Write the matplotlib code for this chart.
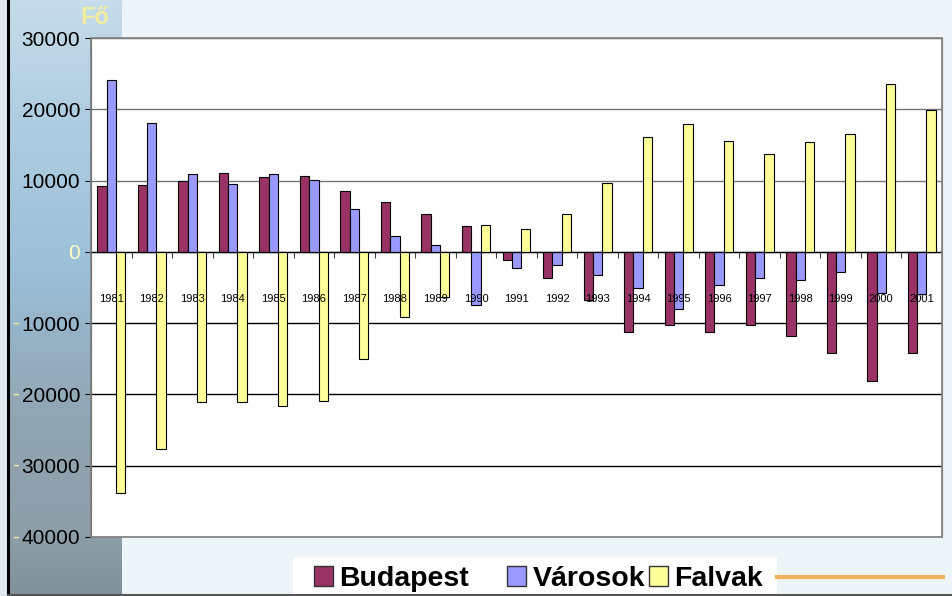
import numpy as np
import matplotlib
matplotlib.use("Agg")
import matplotlib.pyplot as plt
from matplotlib.patches import Patch, Rectangle
from matplotlib.lines import Line2D
from matplotlib.transforms import blended_transform_factory

plt.rcParams['font.family'] = ['Liberation Sans', 'DejaVu Sans']

years = [str(y) for y in range(1981, 2002)]
budapest = [9200, 9400, 10000, 11100, 10500, 10600, 8600, 7000, 5300, 3600,
            -1100, -3700, -6800, -11300, -10200, -11300, -10200, -11800, -14200, -18100, -14200]
varosok = [24100, 18100, 10900, 9500, 10900, 10100, 6000, 2200, 900, -7400,
           -2300, -1900, -3300, -5100, -8000, -4700, -3600, -4000, -2800, -5800, -5900]
falvak = [-33800, -27700, -21100, -21000, -21600, -20900, -15000, -9200, -6300, 3700,
          3200, 5300, 9600, 16100, 17900, 15500, 13700, 15400, 16600, 23500, 19900]
series_names = ['Budapest', 'Városok', 'Falvak']
colors = ['#993366', '#9999FF', '#FFFF99']
yticks = [30000, 20000, 10000, 0, -10000, -20000, -30000, -40000]

W, H = 953, 596
fig = plt.figure(figsize=(W / 100, H / 100), dpi=100)
fig.patch.set_facecolor('#EEF5F8')

# left watercolor strip (decoration)
bg = fig.add_axes([0, 0, 122 / W, 1])
bg.set_axis_off()
stops_t = [0.0, 0.2, 0.45, 0.55, 0.7, 0.9, 1.0]
stops_c = np.array([[198, 220, 234], [175, 205, 225], [155, 192, 216], [150, 180, 200],
                    [145, 165, 178], [140, 158, 168], [128, 145, 155]]) / 255.0
t = np.linspace(0, 1, 300)
grad = np.stack([np.interp(t, stops_t, stops_c[:, j]) for j in range(3)], axis=1)
img = np.repeat(grad[:, None, :], 20, axis=1)
bg.imshow(img, aspect='auto', extent=[0, 1, 0, 1], origin='upper')
bg.set_xlim(0, 1)
bg.set_ylim(0, 1)
fig.add_artist(Rectangle((0, 0), 7 / W, 1, transform=fig.transFigure,
                         facecolor='#dfe9ef', edgecolor='none'))
fig.add_artist(Line2D([8 / W, 8 / W], [0, 1], transform=fig.transFigure, color='black', lw=2.2))
fig.add_artist(Line2D([8 / W, 1], [1.5 / H, 1.5 / H], transform=fig.transFigure,
                      color='#555555', lw=1.5))

ax = fig.add_axes([91 / W, 1 - 537 / H, (942 - 91) / W, (537 - 38) / H])
ax.set_facecolor('white')

x = np.arange(len(years))
w = 0.23
for k, (vals, c, name) in enumerate(zip([budapest, varosok, falvak], colors, series_names)):
    ax.bar(x + (k - 1) * w, vals, width=w, color=c, edgecolor='black', linewidth=0.8, label=name, zorder=3)

ax.set_xlim(-0.5, len(years) - 0.5)
ax.set_ylim(-40000, 30000)
ax.set_yticks(yticks)
ax.yaxis.grid(True, linewidth=1.0, zorder=0)
for gl, v in zip(ax.get_ygridlines(), yticks):
    gl.set_color('#777777' if v > 0 else 'black')

ax.spines['bottom'].set_position(('data', 0))
ax.spines['bottom'].set_color('black')
ax.spines['bottom'].set_zorder(4)
ax.spines['top'].set_color('#808080')
ax.spines['right'].set_color('#808080')
ax.spines['left'].set_color('#333333')
ax.add_patch(Rectangle((0, 0), 1, 1, transform=ax.transAxes, fill=False,
                       edgecolor='#808080', linewidth=1.2, clip_on=False, zorder=5))

ax.set_xticks(x[:-1] + 0.5)
ax.tick_params(axis='x', direction='out', length=4, width=0.8, color='#444444', labelbottom=False)
for i, yr in enumerate(years):
    ax.text(i, -6550, yr, ha='center', va='center', fontsize=8, color='black', zorder=6)

ax.tick_params(axis='y', direction='out', length=4.3, width=0.8, labelsize=15, pad=3.5)
ax.set_yticklabels([f'{abs(v)}' for v in yticks])
for lbl, v in zip(ax.get_yticklabels(), yticks):
    if v == 0:
        lbl.set_color('#FFFFC0')
tr = blended_transform_factory(fig.transFigure, ax.transData)
for v in yticks:
    if v < 0:
        fig.text(16 / W, v, '-', transform=tr, ha='center', va='center',
                 fontsize=15, color='#F5F0A0')

fig.text(95 / W, 1 - 17 / H, 'Fő', ha='center', va='center', fontsize=17,
         fontweight='bold', color='#F2EEA0')

# legend: white box with three entries at their own positions
fig.add_artist(Rectangle((293 / W, 0), (777 - 293) / W, (596 - 557) / H,
                         transform=fig.transFigure, facecolor='white', edgecolor='none'))
marker_x = [314, 507, 649]
for c, name, mx in zip(colors, series_names, marker_x):
    h = Patch(facecolor=c, edgecolor='#333333', linewidth=1.0)
    fig.legend([h], [name], loc='center left', bbox_to_anchor=(mx / W, 1 - 579 / H),
               frameon=False, prop={'size': 20.5, 'weight': 'bold'},
               handlelength=0.65, handleheight=0.65, handletextpad=0.25,
               borderpad=0, borderaxespad=0)

fig.add_artist(Line2D([777 / W, 943 / W], [1 - 577 / H] * 2, transform=fig.transFigure,
                      color='#F0B060', lw=3))

fig.savefig('out.png', dpi=100, facecolor=fig.get_facecolor())
